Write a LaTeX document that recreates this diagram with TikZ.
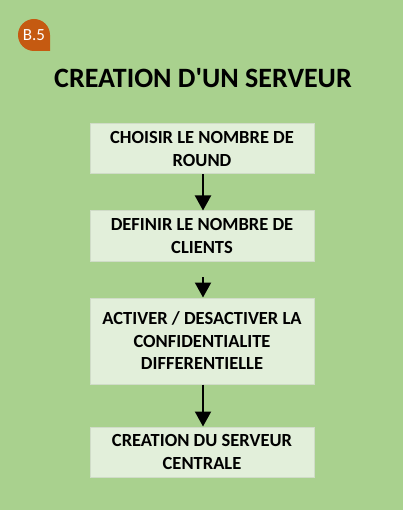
\documentclass[tikz,border=0pt]{standalone}
\usepackage{fontspec}
\setmainfont{Carlito}
\newfontfamily\plaincarlito{Carlito}
\usetikzlibrary{arrows.meta}
\definecolor{bg}{HTML}{A9D18E}
\definecolor{boxfill}{HTML}{E2EFDA}
\definecolor{boxline}{HTML}{D0DCC8}
\definecolor{badge}{HTML}{C55A11}
\tikzset{
  stepbox/.style={draw=boxline, line width=1pt, fill=boxfill, minimum width=224pt, align=center, inner sep=0pt, font=\bfseries\fontsize{18.5}{22.5}\selectfont},
  flow/.style={line width=2pt, -{Triangle[width=16pt,length=15pt]}}
}
\begin{document}
\begin{tikzpicture}[x=1pt,y=-1pt]
\fill[bg] (0,0) rectangle (403,510);
\useasboundingbox (0,0) rectangle (403,510);
% badge
\fill[badge] (50,35) arc[start angle=0, end angle=-270, radius=16] -- (50,51) -- cycle;
\node[text=white, font=\fontsize{17}{20}\selectfont] (badge) at (34,35.5) {B.5};
% title
\node[font=\plaincarlito\bfseries\fontsize{28}{32}\selectfont] (title) at (203,78) {CREATION D'UN SERVEUR};
% boxes
\node[stepbox, minimum height=50pt] (b1) at (202,149) {CHOISIR LE NOMBRE DE\\ROUND};
\node[stepbox, minimum height=50pt] (b2) at (202,236) {DEFINIR LE NOMBRE DE\\CLIENTS};
\node[stepbox, minimum height=86pt] (b3) at (202,341) {ACTIVER / DESACTIVER LA\\CONFIDENTIALITE\\DIFFERENTIELLE};
\node[stepbox, minimum height=50pt] (b4) at (202,452) {CREATION DU SERVEUR\\CENTRALE};
\coordinate (s2) at (203,277);
\draw[flow] (b1.south -| s2) -- (b2.north -| s2);
\draw[flow] (s2) -- (b3.north -| s2);
\draw[flow] (b3.south -| s2) -- (b4.north -| s2);
\end{tikzpicture}
\end{document}
